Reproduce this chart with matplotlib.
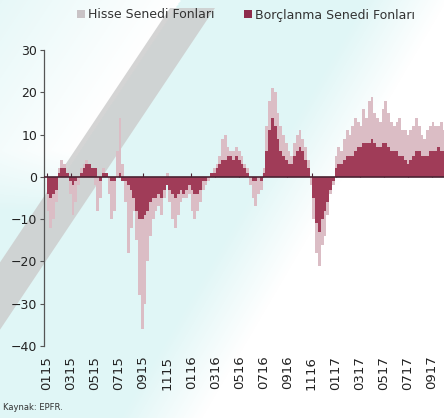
import numpy as np
import matplotlib
matplotlib.use("Agg")
import matplotlib.pyplot as plt
from matplotlib.patches import Polygon

# ---- data (weekly fund flows, bn USD) ----
hisse = [-8, -12, -10, -6,
         2, 4, 3, 1,
         -4, -9, -6, -2,
         2, 3, 4, 3, 1, -2,
         -8, -5,
         2, 0, -4, -10, -8,
         6, 14, 3,
         -6, -18, -12, -8,
         -15, -28, -36, -30, -20, -14, -10,
         -8, -7, -9, -5, 1,
         -6, -10, -12, -9, -6, -5,
         -5, -4, -8, -10, -8, -6,
         -3, -2, -1, 1, 2, 3,
         5, 9, 10, 7, 6,
         6, 7, 6, 5, 3, 2,
         -2, -5, -7, -4, -3, 2,
         12, 18, 21, 20, 15,
         12, 10, 8, 6,
         5, 8, 10, 11, 9, 7, 4,
         -2, -10, -18, -21, -16, -14, -9, -4, -2,
         5, 7, 6, 9, 11, 10,
         12, 14, 13, 12, 16,
         14, 18, 19, 15, 14,
         13, 16, 18, 15, 13,
         12, 13, 14, 11, 11,
         10, 11, 12, 14, 12,
         10, 9, 11, 12, 13,
         12, 12, 13, 11]
borclanma = [-4, -5, -4, -3,
             1, 2, 2, 1,
             -1, -2, -1, 0,
             1, 2, 3, 3, 2, 2,
             0, -1,
             1, 1, 0, -1, -1,
             0, 1, -1,
             -1, -2, -3, -5,
             -8, -10, -10, -9, -8, -6, -5,
             -5, -4, -5, -3, -2,
             -3, -4, -5, -4, -3, -4,
             -3, -2, -3, -4, -4, -3,
             -1, -1, 0, 1, 1, 2,
             3, 4, 4, 5, 5,
             4, 5, 4, 3, 2, 1,
             0, -1, -1, 0, -1, 1,
             6, 11, 14, 12, 9,
             6, 5, 4, 3,
             3, 5, 6, 7, 6, 4, 2,
             0, -5, -11, -13, -10, -8, -6, -3, -1,
             2, 3, 3, 4, 5, 5,
             5, 6, 7, 7, 8,
             8, 8, 9, 8, 7,
             7, 8, 8, 7, 6,
             6, 6, 5, 5, 4,
             3, 4, 5, 6, 6,
             5, 5, 5, 6, 6,
             6, 7, 6, 6]
tick_labels = ["0115", "0315", "0515", "0715", "0915", "1115",
               "0116", "0316", "0516", "0716", "0916", "1116",
               "0117", "0317", "0517", "0717", "0917"]
series_names = ["Hisse Senedi Fonları", "Borçlanma Senedi Fonları"]
source = "Kaynak: EPFR."

# ---- figure ----
W, H = 444, 418
fig = plt.figure(figsize=(W / 100, H / 100), dpi=100)

# decorative background (cyan wash, white areas, grey diagonal band)
bg = fig.add_axes([0, 0, 1, 1], zorder=-10)
yy, xx = np.mgrid[0:H, 0:W].astype(float)
cyan = np.array([0.88, 0.965, 0.965])
d1 = ((xx - 405) * 418 + yy * 245) / 485.0
w1 = np.clip(d1 / 70 + 0.5, 0, 1)
left_edge = 175 - 0.667 * yy
dl = left_edge - xx
w2 = np.clip(1 - dl / 220, 0, 1) * (dl > -5) * np.clip((210 - yy) / 60, 0, 1)
w = np.maximum(w1, w2)
img = cyan[None, None, :] * (1 - w[..., None]) + w[..., None]
bg.imshow(img, extent=[0, W, H, 0], aspect="auto", interpolation="bilinear")
bg.add_patch(Polygon([[170, 8], [215, 8], [-59, 418], [-104, 418]],
                     closed=True, facecolor="#cdcdcd", edgecolor="none", alpha=0.85))
bg.set_xlim(0, W)
bg.set_ylim(H, 0)
bg.axis("off")

ax = fig.add_axes([44 / W, 1 - 346 / H, 1 - 44 / W, (346 - 50) / H])
ax.set_facecolor("none")

wk = 12 / 52.18
x = 0.115 + wk * np.arange(len(hisse))
ax.bar(x, hisse, width=wk * 1.02, color="#dbbdc5", linewidth=0, label=series_names[0], zorder=2)
ax.bar(x, borclanma, width=wk * 1.02, color="#a03c58", linewidth=0, label=series_names[1], zorder=3)
ax.axhline(0, color="#4a2232", linewidth=1.2, zorder=4)

ax.set_ylim(-40, 30)
ax.set_xlim(-0.22, 33.0)
ax.set_yticks(range(-40, 31, 10))
ax.tick_params(axis="y", direction="out", length=3, width=0.8, color="#555555",
               labelsize=9, pad=2, labelcolor="#222222")
tick_pos = np.arange(0, 33, 2)
ax.set_xticks(tick_pos)
ax.set_xticklabels(tick_labels, rotation=90, fontsize=9.5, color="#222222")
ax.tick_params(axis="x", length=0, pad=7)
for s in ["top", "right", "bottom"]:
    ax.spines[s].set_visible(False)
ax.spines["left"].set_color("#555555")
ax.spines["left"].set_linewidth(0.9)

sec = ax.secondary_xaxis(40 / 70)
sec.set_xticks(tick_pos)
sec.set_xticklabels([])
sec.tick_params(direction="out", length=3, width=0.8, color="#4a2232")
for s in sec.spines.values():
    s.set_visible(False)

leg = ax.legend(loc="center", bbox_to_anchor=(246 / W, 1 - 15 / H), bbox_transform=fig.transFigure,
                ncol=2, frameon=False, fontsize=9, handlelength=0.6, handleheight=0.6,
                handletextpad=0.25, columnspacing=2.4, borderaxespad=0)
leg.legend_handles[0].set_color("#c9c3c6")
leg.legend_handles[1].set_color("#8e2c4c")
for t in leg.get_texts():
    t.set_color("#333333")

fig.text(3 / W, 1 - 408 / H, source, fontsize=6, color="#333333", va="center", ha="left")

fig.savefig("out.png", dpi=100)
